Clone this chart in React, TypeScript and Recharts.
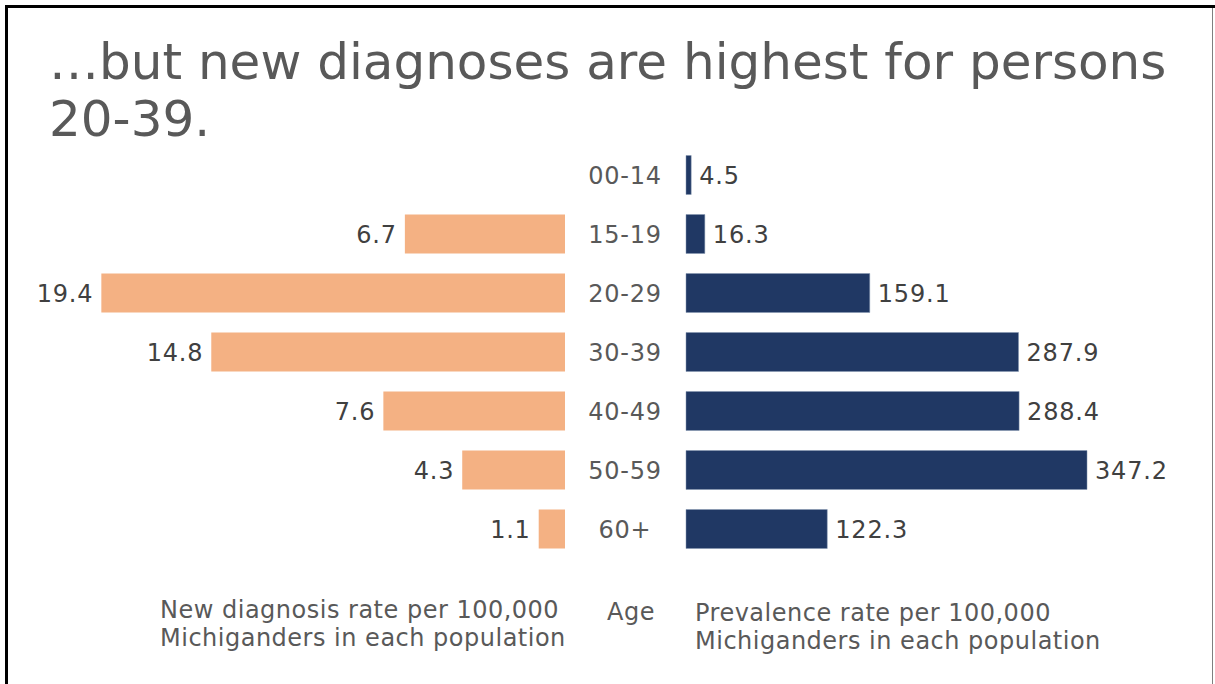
import React from 'react';
import { BarChart, Bar, XAxis, YAxis, LabelList } from 'recharts';

const AGE_GROUPS = ['00-14', '15-19', '20-29', '30-39', '40-49', '50-59', '60+'];
// new diagnoses per 100,000 (no value for the youngest group)
const NEW_DIAGNOSIS_RATE = [null, 6.7, 19.4, 14.8, 7.6, 4.3, 1.1];
// people living with HIV per 100,000
const PREVALENCE_RATE = [4.5, 16.3, 159.1, 287.9, 288.4, 347.2, 122.3];

const FONT = '"DejaVu Sans", Verdana, sans-serif';
const ORANGE = '#F4B183';
const NAVY = '#203864';
const LABEL_COLOR = '#404040';
const TEXT_COLOR = '#595959';

const chartData = AGE_GROUPS.map((age, i) => ({
  age,
  diagnosis: NEW_DIAGNOSIS_RATE[i],
  prevalence: PREVALENCE_RATE[i],
}));

const CHART_MARGIN_TOP = 145.5;
const CHART_MARGIN_BOTTOM = 125.5;

// value label placed beyond the bar end (left side for the mirrored chart)
const makeLabel = (side: 'left' | 'right') => (props: any) => {
  const { x, y, width, height, value } = props;
  if (value == null) return null;
  const left = Math.min(x, x + width);
  const right = Math.max(x, x + width);
  const tx = side === 'left' ? left - 8 : right + 8;
  return (
    <text
      x={tx}
      y={y + height / 2}
      dy="0.36em"
      textAnchor={side === 'left' ? 'end' : 'start'}
      fill={LABEL_COLOR}
      fontSize={24}
      letterSpacing={0.8}
      fontFamily={FONT}
    >
      {Number(value).toFixed(1)}
    </text>
  );
};

const AgeTick = (props: any) => {
  const { y, payload } = props;
  return (
    <text
      x={60}
      y={y}
      dy="0.36em"
      textAnchor="middle"
      fill={TEXT_COLOR}
      fontSize={24}
      letterSpacing={0.8}
      fontFamily={FONT}
    >
      {payload.value}
    </text>
  );
};

const captionStyle: React.CSSProperties = {
  position: 'absolute',
  fontSize: 24,
  letterSpacing: 0.5,
  lineHeight: '28px',
  color: TEXT_COLOR,
  whiteSpace: 'nowrap',
};

export default function App() {
  return (
    <div
      style={{
        position: 'absolute',
        left: 0,
        top: 0,
        width: 1215,
        height: 684,
        overflow: 'hidden',
        background: '#fff',
        fontFamily: FONT,
      }}
    >
      {/* slide frame */}
      <div style={{ position: 'absolute', left: 5, top: 5, width: 1210, height: 700, borderLeft: '3px solid #000', borderTop: '3px solid #000' }} />
      <div style={{ position: 'absolute', left: 1212, top: 8, width: 1, height: 700, background: '#7f7f7f' }} />

      <div
        style={{
          position: 'absolute',
          left: 49,
          top: 34,
          fontSize: 50,
          lineHeight: '57px',
          color: TEXT_COLOR,
          whiteSpace: 'nowrap',
        }}
      >
        …but new diagnoses are highest for persons
        <br />
        20-39.
      </div>

      {/* new diagnosis rate, mirrored to the left */}
      <div style={{ position: 'absolute', left: 0, top: 0 }}>
        <BarChart
          width={600}
          height={684}
          data={chartData}
          layout="vertical"
          margin={{ top: CHART_MARGIN_TOP, bottom: CHART_MARGIN_BOTTOM, left: 87, right: 35 }}
          barSize={39}
        >
          <XAxis type="number" domain={[0, 20]} reversed hide />
          <YAxis type="category" dataKey="age" hide />
          <Bar dataKey="diagnosis" fill={ORANGE} isAnimationActive={false}>
            <LabelList dataKey="diagnosis" content={makeLabel('left')} />
          </Bar>
        </BarChart>
      </div>

      {/* prevalence rate with the age axis */}
      <div style={{ position: 'absolute', left: 565, top: 0 }}>
        <BarChart
          width={650}
          height={684}
          data={chartData}
          layout="vertical"
          margin={{ top: CHART_MARGIN_TOP, bottom: CHART_MARGIN_BOTTOM, left: 0, right: 67 }}
          barSize={39}
        >
          <XAxis type="number" domain={[0, 400]} hide />
          <YAxis
            type="category"
            dataKey="age"
            width={121}
            axisLine={false}
            tickLine={false}
            tick={<AgeTick />}
            interval={0}
          />
          <Bar dataKey="prevalence" fill={NAVY} stroke="#8497b0" strokeWidth={0.5} isAnimationActive={false}>
            <LabelList dataKey="prevalence" content={makeLabel('right')} />
          </Bar>
        </BarChart>
      </div>

      <div style={{ ...captionStyle, left: 160, top: 596 }}>
        New diagnosis rate per 100,000
        <br />
        Michiganders in each population
      </div>
      <div style={{ ...captionStyle, left: 607, top: 598 }}>Age</div>
      <div style={{ ...captionStyle, left: 695, top: 599 }}>
        Prevalence rate per 100,000
        <br />
        Michiganders in each population
      </div>
    </div>
  );
}
